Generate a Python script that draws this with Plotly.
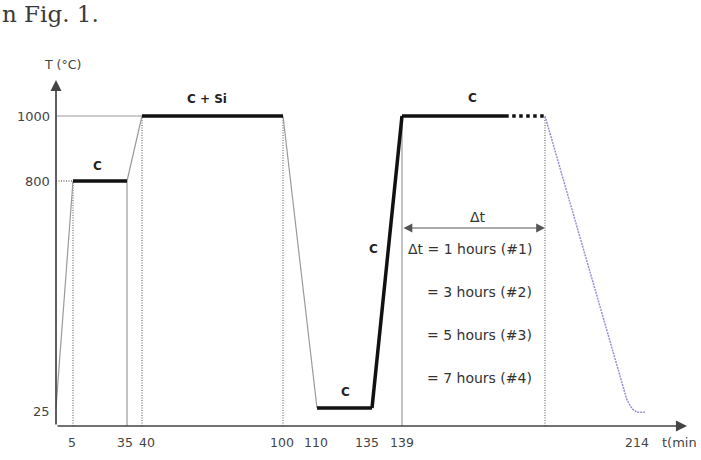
import numpy as np
import plotly.graph_objects as go

# ---------------- data (schematic heat-treatment profile) ----------------
# time ticks (min) and their labels
time_ticks = [5, 35, 40, 100, 110, 135, 139, 214]
time_tick_labels = ["5", "35", "40", "100", "110", "135", "139", "214"]
# temperature ticks (°C)
temp_ticks = [25, 800, 1000]
temp_tick_labels = ["25", "800", "1000"]

# end of the variable Δt hold (schematic, unlabeled)
t_hold_end = 180

# process segments: (times, temps)
ramp1_t, ramp1_T = [0, 5], [25, 800]
hold1_t, hold1_T = [5, 35], [800, 800]                 # C
ramp2_t, ramp2_T = [35, 40], [800, 1000]
hold2_t, hold2_T = [40, 100], [1000, 1000]             # C + Si
cool1_t, cool1_T = [100, 110], [1000, 25]
hold3_t, hold3_T = [110, 135], [25, 25]                # C
ramp3_t, ramp3_T = [135, 139], [25, 1000]              # C
hold4_t, hold4_T = [139, 169.6], [1000, 1000]          # C
hold4dot_t, hold4dot_T = [170.6, 180], [1000, 1000]
cool2_t = [180, 210.3, 212.2, 214, 217]
cool2_T = [1000, 52, 24, 19, 19]

# schematic (non-linear) axis scales: value -> drawing units
T_ANCHOR = [0, 5, 35, 40, 100, 110, 135, 139, 180, 214, 230]
X_ANCHOR = [0, 17, 71, 86, 227, 261, 316, 346, 489, 581, 624]
TEMP_ANCHOR = [0, 25, 800, 1000]
Y_ANCHOR = [0, 18, 245, 310]


def X(t):
    return list(np.interp(t, T_ANCHOR, X_ANCHOR))


def Y(T):
    return list(np.interp(T, TEMP_ANCHOR, Y_ANCHOR))


FONT = "DejaVu Sans"
GRAY = "#9a9a9a"
DOTC = "#7a7a7a"
DOT = "1px,1.5px"

fig = go.Figure()


def seg(t, T, color, width, dash="solid"):
    fig.add_trace(go.Scatter(x=X(t), y=Y(T), mode="lines",
                             line=dict(color=color, width=width, dash=dash),
                             hoverinfo="skip", showlegend=False))


# reference lines
seg([0, 5], [800, 800], DOTC, 1.3, DOT)
seg([0, 40], [1000, 1000], GRAY, 1.2)
seg([5, 5], [0, 800], DOTC, 1.3, DOT)
seg([35, 35], [0, 800], GRAY, 1.2)
seg([40, 40], [0, 1000], DOTC, 1.3, DOT)
seg([100, 100], [0, 1000], DOTC, 1.3, DOT)
seg([139, 139], [0, 1000], GRAY, 1.2)
seg([t_hold_end, t_hold_end], [0, 1000], DOTC, 1.3, DOT)

# thin ramps
seg(ramp1_t, ramp1_T, GRAY, 1.2)
seg(ramp2_t, ramp2_T, GRAY, 1.2)
seg(cool1_t, cool1_T, GRAY, 1.2)
seg(cool2_t, cool2_T, "#9a8ed4", 1.5, "2px,1px")

# thick carburising segments
for t, T in [(hold1_t, hold1_T), (hold2_t, hold2_T), (hold3_t, hold3_T),
             (ramp3_t, ramp3_T), (hold4_t, hold4_T)]:
    seg(t, T, "#111111", 3.5)
seg(hold4dot_t, hold4dot_T, "#111111", 3.5, "dot")

ann = []


def text(x, y, s, size=13, bold=False, xanchor="center", color="#333333", family=FONT):
    ann.append(dict(x=x, y=y, xref="x", yref="y", text=("<b>%s</b>" % s) if bold else s,
                    showarrow=False, xanchor=xanchor, yanchor="middle",
                    font=dict(family=family, size=size, color=color)))


# axes with arrow heads
ann.append(dict(x=0, y=346, ax=0, ay=0, xref="x", yref="y", axref="x", ayref="y",
                text="", showarrow=True, arrowhead=2, arrowsize=1.3, arrowwidth=1.7,
                arrowcolor="#444444"))
ann.append(dict(x=631, y=0, ax=0, ay=0, xref="x", yref="y", axref="x", ayref="y",
                text="", showarrow=True, arrowhead=2, arrowsize=1.3, arrowwidth=1.7,
                arrowcolor="#444444"))

# Δt double arrow
y_dt = 198
ann.append(dict(x=X([t_hold_end])[0], y=y_dt, ax=X([139])[0], ay=y_dt,
                xref="x", yref="y", axref="x", ayref="y", text="", showarrow=True,
                arrowhead=2, startarrowhead=2, arrowside="end+start",
                arrowsize=1.6, startarrowsize=1.6, arrowwidth=1.1, arrowcolor="#555555"))

# tick labels
x_label_shift = [-1, -2, 5, -1, -1, -5, 0, 0]
for tv, lab, sh in zip(time_ticks, time_tick_labels, x_label_shift):
    text(X([tv])[0] + sh, -16, lab, size=12.5, color="#444444")
y_label_shift = [-3, 0, 0]
for tv, lab, sh in zip(temp_ticks, temp_tick_labels, y_label_shift):
    text(-4, Y([tv])[0] + sh, lab, size=13, xanchor="right", color="#444444")

text(6, 362, "T (°C)", size=12.5, color="#444444")
text(604, -16, "t(min", size=13, xanchor="left", color="#444444")
text(-56, 412, "n Fig. 1.", size=23, xanchor="left", color="#3a3a3a", family="DejaVu Serif")

# phase labels
text(41, 260, "C", size=12, bold=True, color="#222222")
text(151, 327, "C + Si", size=12, bold=True, color="#222222")
text(289, 34, "C", size=12, bold=True, color="#222222")
text(317, 177, "C", size=12, bold=True, color="#222222")
text(416, 328, "C", size=12, bold=True, color="#222222")

# Δt legend
text(422, 209, "Δt", size=14)
dt_lines = ["Δt = 1 hours (#1)", "= 3 hours (#2)", "= 5 hours (#3)", "= 7 hours (#4)"]
for i, s in enumerate(dt_lines):
    text(478, 177 - 43 * i, s, size=14, xanchor="right")

fig.update_layout(
    width=701, height=460,
    margin=dict(l=0, r=0, t=0, b=0),
    paper_bgcolor="white", plot_bgcolor="white",
    xaxis=dict(range=[-56, 645], visible=False, fixedrange=True),
    yaxis=dict(range=[-34, 426], visible=False, fixedrange=True),
    annotations=ann,
    showlegend=False,
)

fig.write_html("out.html")
